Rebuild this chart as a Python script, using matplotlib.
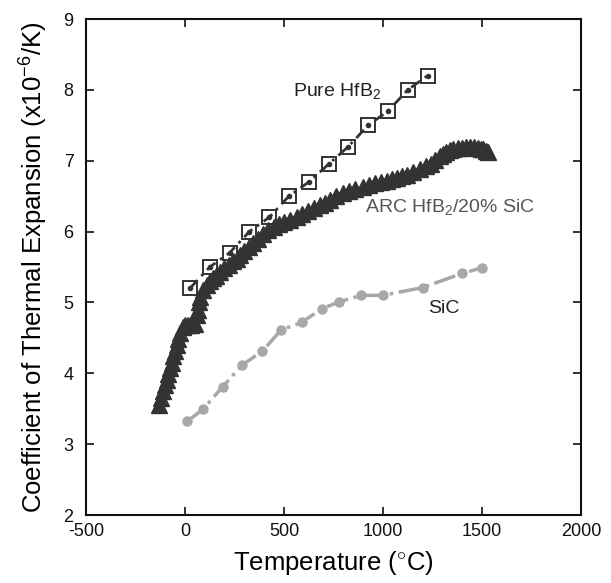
import matplotlib
matplotlib.use("Agg")
import matplotlib.pyplot as plt

plt.rcParams["font.family"] = ["Liberation Sans", "DejaVu Sans"]
plt.rcParams["mathtext.fontset"] = "custom"
plt.rcParams["mathtext.rm"] = "Liberation Sans"
plt.rcParams["mathtext.it"] = "Liberation Sans"
plt.rcParams["mathtext.bf"] = "Liberation Sans"
plt.rcParams["axes.unicode_minus"] = False

# ----------------------------
# Data
# ----------------------------
arc_T = [-130, -120, -110, -100, -92, -84, -75, -67, -59, -50, -42, -33, -25, -12,
         0, 15, 30, 50, 60, 67, 72, 76, 90, 110, 125, 140, 158, 177, 198, 220,
         240, 261, 280, 300, 322, 345, 370, 395, 420, 450, 475, 500, 530, 564,
         590, 620, 650, 680, 705, 732, 765, 800, 830, 860, 900, 930, 960, 990,
         1020, 1045, 1069, 1095, 1120, 1150, 1187, 1215, 1240, 1265, 1288, 1305,
         1320, 1338, 1355, 1378, 1400, 1420, 1440, 1460, 1480, 1495, 1507, 1520, 1530]
arc_cte = [3.55, 3.65, 3.75, 3.83, 3.91, 3.99, 4.07, 4.15, 4.24, 4.32, 4.40, 4.49, 4.57, 4.66,
           4.68, 4.68, 4.68, 4.70, 4.82, 4.90, 5.00, 5.08, 5.17, 5.25, 5.30, 5.34, 5.38, 5.43, 5.48, 5.53,
           5.58, 5.62, 5.67, 5.72, 5.78, 5.84, 5.90, 5.96, 6.02, 6.07, 6.10, 6.13, 6.17, 6.21,
           6.25, 6.29, 6.33, 6.37, 6.41, 6.45, 6.50, 6.54, 6.57, 6.60, 6.63, 6.66, 6.68, 6.70,
           6.72, 6.74, 6.76, 6.78, 6.80, 6.84, 6.88, 6.92, 6.96, 7.01, 7.06, 7.10,
           7.13, 7.15, 7.17, 7.18, 7.18, 7.19, 7.19, 7.19, 7.18, 7.17, 7.16, 7.14, 7.13]

hfb2_T = [25, 125, 225, 325, 425, 525, 625, 725, 825, 925, 1025, 1125, 1225]
hfb2_cte = [5.2, 5.5, 5.7, 6.0, 6.2, 6.5, 6.7, 6.95, 7.2, 7.5, 7.7, 8.0, 8.2]

sic_T = [10, 90, 190, 290, 390, 485, 590, 690, 780, 890, 1000, 1200, 1400, 1500]
sic_cte = [3.32, 3.49, 3.81, 4.12, 4.31, 4.61, 4.72, 4.91, 5.01, 5.10, 5.10, 5.21, 5.41, 5.49]

x_ticks = [-500, 0, 500, 1000, 1500, 2000]
y_ticks = [2, 3, 4, 5, 6, 7, 8, 9]

# ----------------------------
# Figure
# ----------------------------
fig = plt.figure(figsize=(6.11, 5.83), dpi=100)
ax = fig.add_axes([0.1408, 0.1166, 0.8101, 0.8508])

# SiC
ax.plot(sic_T, sic_cte, linestyle="-.", color="#a8a8a8", linewidth=2.5,
        marker="o", markersize=6.5, markeredgecolor="#a8a8a8", markerfacecolor="#a8a8a8")

# ARC HfB2/20% SiC
ax.plot(arc_T, arc_cte, linestyle="none", marker="^", markersize=11,
        color="#333333", markeredgecolor="#333333")

# Pure HfB2
ax.plot(hfb2_T, hfb2_cte, linestyle=(0, (4, 2, 1, 2)), color="#333333", linewidth=2,
        marker="o", markersize=3)
ax.plot(hfb2_T, hfb2_cte, linestyle="none", marker="s", markersize=10,
        markerfacecolor="none", markeredgecolor="#333333", markeredgewidth=1.4)

# annotations
ax.text(545, 7.98, "Pure HfB$_2$", fontsize=14, color="#222222", va="center")
ax.text(908, 6.35, "ARC HfB$_2$/20% SiC", fontsize=14, color="#555555", va="center")
ax.text(1229, 4.91, "SiC", fontsize=14, color="#222222", va="center")

ax.set_xlim(-500, 2000)
ax.set_ylim(2, 9)
ax.set_xticks(x_ticks)
ax.set_yticks(y_ticks)
ax.tick_params(direction="in", length=6, width=1.2, top=True, right=True,
               labelsize=13, colors="#111111")
ax.tick_params(axis="x", pad=6)
ax.tick_params(axis="y", pad=9)
for s in ax.spines.values():
    s.set_linewidth(1.5)
    s.set_color("#111111")

ax.set_xlabel("Temperature ($^{\\circ}$C)", fontsize=18.5, labelpad=6)
ax.set_ylabel("Coefficient of Thermal Expansion (x10$^{-6}$/K)", fontsize=18.5, labelpad=10)

fig.savefig("out.png", dpi=100)
